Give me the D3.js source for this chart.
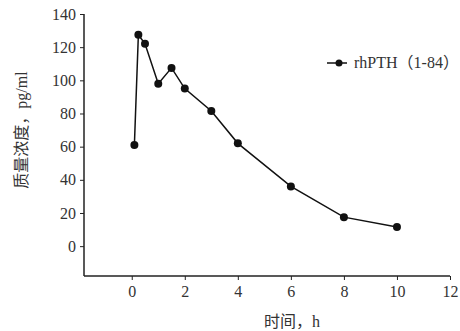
<!DOCTYPE html>
<html><head><meta charset="utf-8">
<script src="https://cdn.jsdelivr.net/npm/d3@7/dist/d3.min.js"></script>
<style>body{margin:0;background:#fff}svg{display:block}</style>
</head><body>
<svg id="c" width="460" height="331"></svg>
<script>
const times = [0.1, 0.25, 0.5, 1, 1.5, 2, 3, 4, 6, 8, 10];
const values = [61, 127.5, 122, 98, 107.5, 95, 81.5, 62, 36, 17.5, 11.5];
const seriesName = "rhPTH（1-84）";
const xTicks = [0, 2, 4, 6, 8, 10, 12];
const yTicks = [0, 20, 40, 60, 80, 100, 120, 140];
const xTitle = "时间，h";
const yTitle = "质量浓度，pg/ml";

const svg = d3.select("#c");
const font = "'Liberation Serif','Noto Sans CJK SC',serif";
const x = d3.scaleLinear().domain([-1.8, 12]).range([84, 450]);
const y = d3.scaleLinear().domain([-18, 140]).range([276, 14]);

const xAxis = svg.append("g").attr("transform", "translate(0,276)")
  .call(d3.axisBottom(x).tickValues(xTicks).tickSize(4).tickPadding(6).tickSizeOuter(0));
const yAxis = svg.append("g").attr("transform", "translate(84,0)")
  .call(d3.axisLeft(y).tickValues(yTicks).tickSize(4).tickPadding(4).tickSizeOuter(0));
[xAxis, yAxis].forEach(g => {
  g.select(".domain").attr("stroke", "#222").attr("stroke-width", 1.5);
  g.selectAll(".tick line").attr("stroke", "#222").attr("stroke-width", 1);
  g.selectAll(".tick text").attr("fill", "#333").style("font-family", font).style("font-size", "16px");
});
xAxis.select(".domain").attr("d", `M${x.range()[0]},0H${x.range()[1]}`);
yAxis.select(".domain").attr("d", `M0,${y.range()[0]}V${y.range()[1]}`);

svg.append("text").attr("x", 292).attr("y", 327).attr("text-anchor", "middle")
  .style("font-family", font).style("font-size", "16px").attr("fill", "#333").text(xTitle);
svg.append("text").attr("transform", "translate(27,130) rotate(-90)").attr("text-anchor", "middle")
  .style("font-family", font).style("font-size", "16px").attr("fill", "#333").text(yTitle);

const line = d3.line().x((d, i) => x(times[i])).y(d => y(d));
svg.append("path").datum(values).attr("d", line).attr("fill", "none")
  .attr("stroke", "#111").attr("stroke-width", 1.5);
svg.selectAll("circle.pt").data(values).join("circle").attr("class", "pt")
  .attr("cx", (d, i) => x(times[i])).attr("cy", d => y(d)).attr("r", 4).attr("fill", "#111");

const lg = svg.append("g").attr("transform", "translate(327,63)");
lg.append("line").attr("x1", 0).attr("x2", 20).attr("y1", 0).attr("y2", 0).attr("stroke", "#111").attr("stroke-width", 1.5);
lg.append("circle").attr("cx", 12).attr("cy", 0).attr("r", 3.5).attr("fill", "#111");
lg.append("text").attr("x", 27).attr("y", 5).style("font-family", font).style("font-size", "16px")
  .attr("fill", "#333").text(seriesName);
</script>
</body></html>
